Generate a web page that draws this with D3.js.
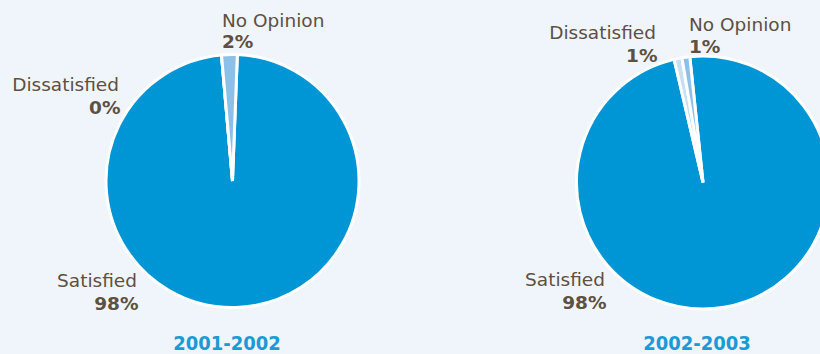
<!DOCTYPE html>
<html>
<head>
<meta charset="utf-8">
<script src="https://cdn.jsdelivr.net/npm/d3@7"></script>
<style>
  html, body { margin: 0; padding: 0; background: #eff5fb; }
  svg { display: block; }
  text { font-family: "DejaVu Sans", sans-serif; }
  text.year { font-family: "DejaVu Sans Condensed", "DejaVu Sans", sans-serif; font-stretch: condensed; }
</style>
</head>
<body>
<svg id="chart" width="820" height="354"></svg>
<script>
// Survey results by school year
const years = ["2001-2002", "2002-2003"];
const categories = ["Satisfied", "Dissatisfied", "No Opinion"];
const satisfied = [98, 98];
const dissatisfied = [0, 1];
const noOpinion = [2, 1];

const colors = d3.scaleOrdinal()
  .domain(categories)
  .range(["#0096d6", "#c6dff3", "#8cc0e9"]);

const svg = d3.select("#chart");
const W = 820, H = 354;

svg.append("rect").attr("width", W).attr("height", H).attr("fill", "#eff5fb");

// Layout of each pie: centre, rotation and where each label sits
const layouts = [
  {
    cx: 232.5, cy: 181, rotate: 2.2, titleX: 227,
    labels: {
      "Satisfied":    { x: 137, y: 287, gap: 22.5, anchor: "end" },
      "Dissatisfied": { x: 119, y: 91,  gap: 22.5, anchor: "end" },
      "No Opinion":   { x: 222, y: 27,  gap: 21,   anchor: "start" }
    }
  },
  {
    cx: 703, cy: 182.5, rotate: -6, titleX: 697,
    labels: {
      "Satisfied":    { x: 605, y: 285.5, gap: 23,   anchor: "end" },
      "Dissatisfied": { x: 656, y: 38.5,  gap: 23,   anchor: "end" },
      "No Opinion":   { x: 689, y: 31,    gap: 21.5, anchor: "start" }
    }
  }
];

const radius = 126.5;
const arc = d3.arc().innerRadius(0).outerRadius(radius);

years.forEach((year, i) => {
  const lay = layouts[i];
  const values = [satisfied[i], dissatisfied[i], noOpinion[i]];
  const rows = categories.map((c, j) => ({ category: c, value: values[j] }));

  const rot = lay.rotate * Math.PI / 180;
  const pie = d3.pie()
    .sort(null)
    .value(d => d.value)
    .startAngle(rot)
    .endAngle(rot + 2 * Math.PI);

  const g = svg.append("g").attr("transform", `translate(${lay.cx},${lay.cy})`);

  g.selectAll("path")
    .data(pie(rows))
    .join("path")
    .attr("d", arc)
    .attr("fill", d => colors(d.data.category))
    .attr("stroke", "#ffffff")
    .attr("stroke-width", 3)
    .attr("stroke-linejoin", "miter");

  // category name and percentage
  rows.forEach(r => {
    const p = lay.labels[r.category];
    const t = svg.append("text")
      .attr("text-anchor", p.anchor)
      .attr("fill", "#5e5043");
    t.append("tspan")
      .attr("x", p.x).attr("y", p.y)
      .attr("font-size", 18.5)
      .text(r.category);
    t.append("tspan")
      .attr("x", p.x + (p.anchor === "end" ? 1.5 : 0)).attr("y", p.y + p.gap)
      .attr("font-size", 18.5)
      .attr("font-weight", "bold")
      .text(r.value + "%");
  });

  svg.append("text")
    .attr("class", "year")
    .attr("x", lay.titleX)
    .attr("y", 349.5)
    .attr("text-anchor", "middle")
    .attr("font-size", 20)
    .attr("font-weight", "bold")
    .attr("fill", "#1b9ad6")
    .text(year);
});
</script>
</body>
</html>
